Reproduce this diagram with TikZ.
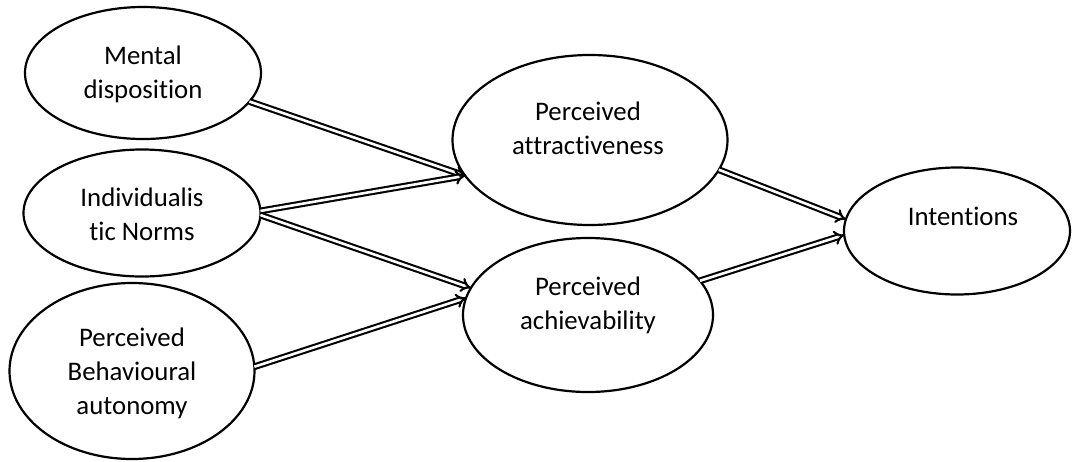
\documentclass[tikz,border=0pt]{standalone}
\usepackage{fontspec}
\setmainfont{Carlito}[RawFeature=-liga, RawFeature=-clig, RawFeature=-calt]
\usetikzlibrary{shapes.geometric,arrows.meta}
\begin{document}
\begin{tikzpicture}[x=0.5pt,y=-0.5pt,
  construct/.style={ellipse,draw,line width=1.1pt,inner sep=0pt,outer sep=0pt},
  label text/.style={align=center,inner sep=0pt,font=\fontsize{13.4}{17}\selectfont},
  conn/.style={double,double distance=1.3pt,line width=1.05pt,-{Implies[scale=1.25]}}]
\useasboundingbox (0,0) rectangle (1072,461);

% constructs
\node[construct,minimum width=118pt,minimum height=66pt] (md) at (143,73) {};
\node[construct,minimum width=118.5pt,minimum height=63.5pt] (ind) at (142,213) {};
\node[construct,minimum width=122.5pt,minimum height=88pt] (pba) at (132,371) {};
\node[construct,minimum width=137.5pt,minimum height=85pt] (att) at (590,140) {};
\node[construct,minimum width=125pt,minimum height=77pt] (ach) at (588,315) {};
\node[construct,minimum width=113pt,minimum height=63.5pt] (int) at (957,231) {};

% labels
\node[label text] (mdt) at (143,74) {Mental\\disposition};
\node[label text] (indt) at (142,214) {Individualis\\tic Norms};
\node[label text] (pbat) at (132,373) {Perceived\\Behavioural\\autonomy};
\node[label text] (attt) at (588,128) {Perceived\\attractiveness};
\node[label text] (acht) at (588,305) {Perceived\\achievability};
\node[label text] (intt) at (963,216) {Intentions};

% paths
\draw[conn] (md.-15.3) -- (att.-164.1);
\draw[conn] (ind.1) -- (att.-164.1);
\draw[conn] (ind.-1) -- (ach.167.6);
\draw[conn] (pba.2.8) -- (ach.172.6);
\draw[conn] (att.-13.9) -- (int.174);
\draw[conn] (ach.17.8) -- (int.182);
\end{tikzpicture}
\end{document}
